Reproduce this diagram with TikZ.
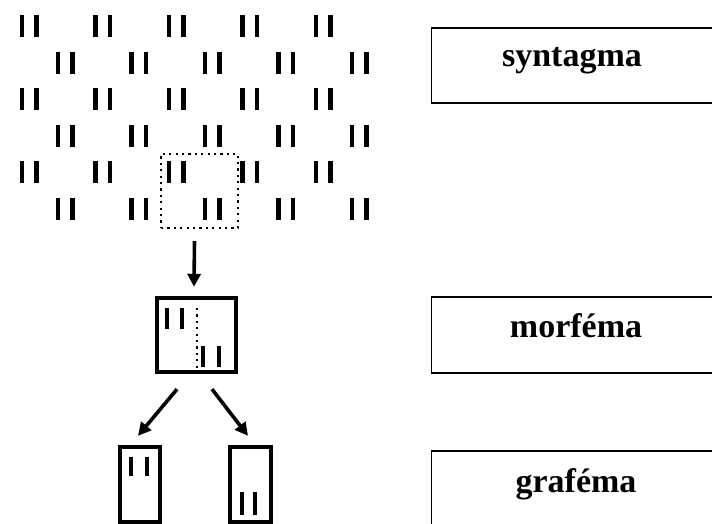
\documentclass[tikz,border=0pt]{standalone}
\usepackage{fontspec}
\setmainfont{Liberation Serif}
\usetikzlibrary{arrows.meta,calc}

\tikzset{
  bar/.style={line width=4.8pt},
  frame/.style={draw, line width=4.4pt, inner sep=0pt},
  window/.style={draw, line width=2.2pt, dash pattern=on 2.2pt off 4.2pt, inner sep=0pt},
  arrow/.style={line width=3.6pt, -{Triangle[length=13pt,width=13pt]}},
  tag/.style={draw, line width=1.3pt, inner sep=0pt, minimum width=420pt, anchor=west},
  word/.style={font=\fontsize{34}{40}\selectfont\bfseries, anchor=base, inner sep=0pt}
}

\begin{document}
\begin{tikzpicture}[x=1pt, y=-1pt]
\useasboundingbox (0,0) rectangle (712,524);
\clip (0,0) rectangle (712,524);

% Grid of letter pairs (odd rows start further left)
\foreach \r in {0,...,5} {
  \pgfmathsetmacro{\xo}{mod(\r,2)==0 ? 22 : 58}
  \pgfmathsetmacro{\yt}{15+36.6*\r}
  \foreach \c in {0,...,4} {
    \draw[bar] ({\xo+73.5*\c},\yt) -- ++(0,22);
    \draw[bar] ({\xo+73.5*\c+14.5},\yt) -- ++(0,22);
  }
}

% Dotted window around one piece
\node[window, minimum width=77pt, minimum height=74pt] (win) at (199.5,191) {};

% Morpheme box with its two halves
\node[frame, minimum width=79pt, minimum height=74pt] (morph) at (196.5,335) {};
\draw[bar] (167,308) -- (167,329);
\draw[bar] (182,308) -- (182,329);
\draw[window] (197,308) -- (morph.south -| 197,0);
\draw[bar] (203,346) -- (203,367);
\draw[bar] (219,346) -- (219,367);

% Grapheme boxes
\node[frame, minimum width=40pt, minimum height=75pt] (grafL) at (140,484.5) {};
\draw[bar] (131,457) -- (131,476);
\draw[bar] (147,457) -- (147,476);
\node[frame, minimum width=41pt, minimum height=75pt] (grafR) at (250.5,484.5) {};
\draw[bar] (242,492) -- (242,515);
\draw[bar] (255,492) -- (255,515);

% Arrows
\draw[arrow] ($(win.south)+(-5,12)$) -- ($(morph.north)+(-2.5,-9)$);
\draw[arrow] ($(morph.south)+(-19.5,15)$) -- ($(grafL.north)+(-2,-9)$);
\draw[arrow] ($(morph.south)+(15.5,15)$) -- ($(grafR.north)+(-2.5,-9)$);

% Labels on the right
\node[tag, minimum height=75pt] (syn) at (431,65.5) {};
\node[word] (synw) at (572,67) {syntagma};
\node[tag, minimum height=76pt] (mor) at (431,335) {};
\node[word] (morw) at (576,337) {morféma};
\node[tag, minimum height=76pt] (gra) at (431,489) {};
\node[word] (graw) at (576,492) {graféma};
\end{tikzpicture}
\end{document}
